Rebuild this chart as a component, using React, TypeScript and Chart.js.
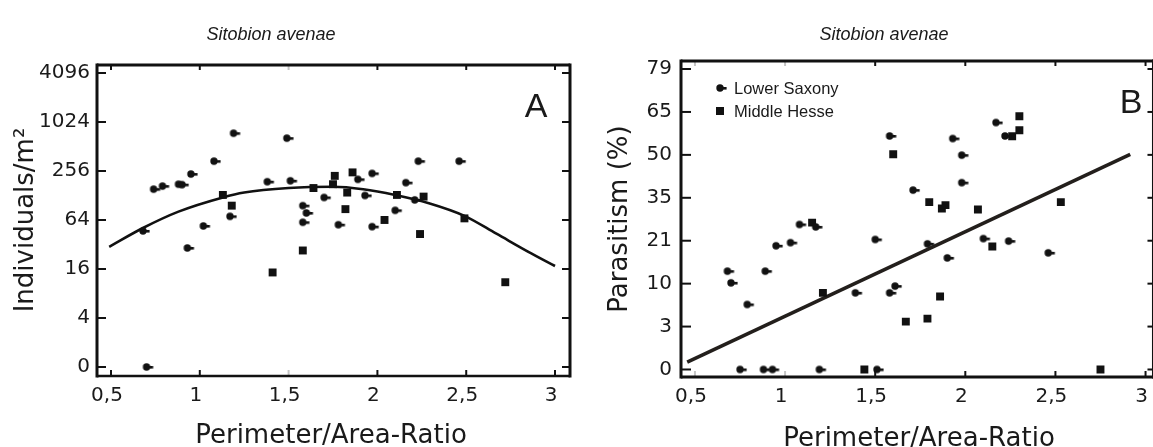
import { useEffect, useRef } from 'react';
import { Chart, registerables } from 'chart.js';

Chart.register(...registerables);

// ---------- shared axis data ----------
const xTickValues = [0.5, 1, 1.5, 2, 2.5, 3];
const xTickLabels = ['0,5', '1', '1,5', '2', '2,5', '3'];

// Panel A: Individuals/m² (log4 axis)
const densityTickValues = [0, 4, 16, 64, 256, 1024, 4096];
const densityTickLabels = ['0', '4', '16', '64', '256', '1024', '4096'];

// Panel B: Parasitism (%) (evenly spaced tick labels)
const parasitismTickValues = [0, 3, 10, 21, 35, 50, 65, 79];
const parasitismTickLabels = ['0', '3', '10', '21', '35', '50', '65', '79'];

// ---------- Panel A data ----------
const aSaxonyX = [1.19, 1.49, 1.08, 0.95, 1.38, 0.74, 0.79, 0.88, 0.9, 1.51, 1.7, 1.58, 1.6, 1.58, 1.17, 1.02, 0.68, 0.93, 0.7, 2.23, 2.46, 1.97, 1.89, 2.16, 1.93, 2.21, 2.1, 1.78, 1.97];
const aSaxonyY = [745, 648, 338, 235, 189, 153, 167, 176, 174, 194, 121, 96, 78, 60, 71, 54, 47, 29, 0, 338, 338, 239, 202, 184, 128, 113, 84, 56, 53];

const aHesseX = [1.13, 1.18, 1.64, 1.76, 1.58, 1.41, 1.86, 1.75, 1.83, 2.11, 2.26, 1.82, 2.04, 2.24, 2.49, 2.72];
const aHesseY = [130, 96, 158, 223, 27, 14.5, 246, 176, 139, 130, 124, 87, 64, 43, 67, 11];

const aFitX = [0.49, 0.68, 0.88, 1.13, 1.25, 1.5, 1.75, 1.92, 2.1, 2.29, 2.49, 2.67, 2.85, 3.0];
const aFitY = [30, 51, 81, 121, 139, 158, 164, 153, 130, 103, 72, 43.4, 26, 17.4];

// ---------- Panel B data ----------
const bSaxonyX = [1.58, 1.71, 1.08, 1.17, 0.95, 1.03, 1.5, 0.68, 0.89, 0.7, 0.79, 1.39, 1.61, 1.58, 0.75, 0.88, 0.93, 1.19, 1.51, 2.17, 1.93, 2.22, 1.98, 1.98, 1.79, 2.1, 2.24, 1.9, 2.46];
const bSaxonyY = [56.6, 37.7, 26.3, 25.5, 19.7, 20.5, 21.4, 13.2, 13.2, 10.2, 6.6, 8.5, 9.6, 8.5, 0, 0, 0, 0, 0, 61.3, 55.7, 56.6, 49.9, 40.3, 20.2, 21.7, 20.9, 16.6, 17.9];

const bHesseX = [1.6, 1.15, 1.21, 1.67, 1.44, 2.75, 2.3, 2.3, 2.26, 1.8, 1.89, 1.87, 2.07, 2.53, 2.15, 1.86, 1.79];
const bHesseY = [50.2, 26.9, 8.5, 3.8, 0, 0, 63.5, 58.6, 56.5, 33.6, 32.6, 31.5, 31.2, 33.6, 19.5, 7.9, 4.3];

const bFitX = [0.457, 2.915];
const bFitY = [0.51, 50.2];

// ---------- transforms onto the drawn axes ----------
const densityPos = (n: number) => (n > 0 ? Math.log(n) / Math.log(4) : 0);
const parasitismPos = (p: number) => {
  const L = parasitismTickValues;
  for (let i = 0; i < L.length - 1; i++) {
    if (p <= L[i + 1]) return i + (p - L[i]) / (L[i + 1] - L[i]);
  }
  return L.length - 1;
};

const FONT = "'DejaVu Sans', 'Liberation Sans', Arial, sans-serif";
const FONT_ARIAL = "'Liberation Sans', Arial, sans-serif";
const INK = '#111111';

function makeTailDot(): HTMLCanvasElement {
  const c = document.createElement('canvas');
  c.width = 18;
  c.height = 10;
  const g = c.getContext('2d')!;
  g.fillStyle = INK;
  g.beginPath();
  g.arc(9, 5, 3.7, 0, Math.PI * 2);
  g.fill();
  g.fillRect(12, 4, 3.6, 2.6);
  return c;
}

const framePlugin = {
  id: 'frame',
  afterDraw(chart: any, _args: any, o: any) {
    const { ctx, chartArea: a } = chart;
    const xs = chart.scales.x;
    const ys = chart.scales.y;
    const seg = (x1: number, y1: number, x2: number, y2: number) => {
      ctx.beginPath();
      ctx.moveTo(x1, y1);
      ctx.lineTo(x2, y2);
      ctx.stroke();
    };
    ctx.save();
    ctx.lineWidth = 2;
    for (const v of o.xTicks) {
      const px = xs.getPixelForValue(v);
      ctx.strokeStyle = o.faintBottom.includes(v) ? '#c4c4c4' : INK;
      seg(px, a.bottom, px, a.bottom - o.len.bottom);
      ctx.strokeStyle = o.faintTop.includes(v) ? '#c4c4c4' : INK;
      seg(px, a.top, px, a.top + o.len.top);
    }
    ctx.strokeStyle = INK;
    for (const v of o.yTicks) {
      const py = ys.getPixelForValue(v);
      seg(a.left, py, a.left + o.len.left, py);
      seg(a.right, py, a.right - o.len.right, py);
    }
    // frame
    ctx.strokeStyle = INK;
    ctx.lineWidth = 3;
    seg(a.left, a.top - 1.5, a.left, a.bottom + 1.5);
    seg(a.right, a.top - 1.5, a.right, a.bottom + 1.5);
    seg(a.left, a.top, a.right, a.top);
    ctx.lineWidth = o.bottomWidth;
    seg(a.left, a.bottom, a.right, a.bottom);

    ctx.fillStyle = '#1a1a1a';
    // title
    ctx.font = `italic 18px ${FONT_ARIAL}`;
    ctx.textAlign = 'center';
    ctx.textBaseline = 'alphabetic';
    ctx.fillText(o.title.text, o.title.x, o.title.y);
    // x title
    ctx.font = `26px ${FONT}`;
    ctx.fillText(o.xTitle.text, o.xTitle.x, o.xTitle.y);
    // y title
    ctx.save();
    ctx.translate(o.yTitle.x, o.yTitle.y);
    ctx.rotate(-Math.PI / 2);
    ctx.fillText(o.yTitle.text, 0, 0);
    ctx.restore();
    // panel letter
    ctx.font = `34px ${FONT_ARIAL}`;
    ctx.fillText(o.letter.text, o.letter.x, o.letter.y);
    // legend
    if (o.legend) {
      ctx.font = `16.5px ${FONT_ARIAL}`;
      ctx.textAlign = 'left';
      o.legend.items.forEach((it: any, i: number) => {
        const y = o.legend.y + i * o.legend.gap;
        if (it.style === 'rect') {
          ctx.fillStyle = INK;
          ctx.fillRect(o.legend.x - 4, y - 4, 8, 8);
        } else {
          ctx.drawImage(it.style, o.legend.x - it.style.width / 2, y - it.style.height / 2);
        }
        ctx.fillStyle = '#1a1a1a';
        ctx.textBaseline = 'alphabetic';
        ctx.fillText(it.text, o.legend.x + 14, y + 6);
      });
    }
    ctx.restore();
  },
};

function zip(xs: number[], ys: number[], f: (v: number) => number) {
  return xs.map((x, i) => ({ x, y: f(ys[i]) }));
}

function makeScales(
  xMin: number, xMax: number, yMin: number, yMax: number,
  yVals: number[], yLabels: string[], yWidth: number, xHeight: number, yPad: number,
) {
  return {
    x: {
      type: 'linear' as const,
      min: xMin,
      max: xMax,
      grid: { display: false, drawTicks: false },
      border: { display: false },
      afterBuildTicks: (s: any) => { s.ticks = xTickValues.map((v) => ({ value: v })); },
      afterFit: (s: any) => { s.height = xHeight; },
      ticks: {
        padding: 8,
        labelOffset: -4,
        maxRotation: 0,
        autoSkip: false,
        color: '#1a1a1a',
        font: { family: FONT, size: 20 },
        callback: (_v: any, i: number) => xTickLabels[i],
      },
    },
    y: {
      type: 'linear' as const,
      min: yMin,
      max: yMax,
      grid: { display: false, drawTicks: false },
      border: { display: false },
      afterBuildTicks: (s: any) => { s.ticks = yVals.map((v) => ({ value: v })); },
      afterFit: (s: any) => { s.width = yWidth; },
      ticks: {
        padding: yPad,
        autoSkip: false,
        color: '#1a1a1a',
        font: { family: FONT, size: 20 },
        callback: (_v: any, i: number) => yLabels[i],
      },
    },
  };
}

export default function App() {
  const refA = useRef<HTMLCanvasElement>(null);
  const refB = useRef<HTMLCanvasElement>(null);

  useEffect(() => {
    const dot = makeTailDot();
    const densityTickPos = densityTickValues.map(densityPos);
    const parasitismTickPos = parasitismTickValues.map(parasitismPos);

    const chartA = new Chart(refA.current!, {
      type: 'scatter',
      data: {
        datasets: [
          {
            label: 'Lower Saxony',
            data: zip(aSaxonyX, aSaxonyY, densityPos),
            pointStyle: dot as any,
            pointRadius: 4,
            backgroundColor: INK,
            borderColor: INK,
          },
          {
            label: 'Middle Hesse',
            data: zip(aHesseX, aHesseY, densityPos),
            pointStyle: 'rect',
            pointRadius: 5.6,
            borderWidth: 0,
            backgroundColor: INK,
            borderColor: INK,
          },
          {
            label: 'fit',
            data: zip(aFitX, aFitY, densityPos),
            showLine: true,
            pointRadius: 0,
            borderColor: INK,
            borderWidth: 2.6,
            cubicInterpolationMode: 'monotone',
          } as any,
        ],
      },
      options: {
        animation: false,
        responsive: false,
        events: [],
        layout: { padding: { top: 65, right: 10, left: 0, bottom: 0 } },
        scales: makeScales(0.4213, 3.0843, -0.184, 6.163, densityTickPos, densityTickLabels, 97, 71, 7) as any,
        plugins: {
          legend: { display: false },
          tooltip: { enabled: false },
          frame: {
            xTicks: xTickValues,
            yTicks: densityTickPos,
            faintTop: [1.5],
            faintBottom: [1.5],
            len: { left: 9, right: 8, top: 5, bottom: 6 },
            bottomWidth: 2.5,
            title: { text: 'Sitobion avenae', x: 271, y: 40 },
            xTitle: { text: 'Perimeter/Area-Ratio', x: 331, y: 443 },
            yTitle: { text: 'Individuals/m²', x: 33, y: 220 },
            letter: { text: 'A', x: 536, y: 117 },
          },
        } as any,
      },
      plugins: [framePlugin],
    });

    const chartB = new Chart(refB.current!, {
      type: 'scatter',
      data: {
        datasets: [
          {
            label: 'Lower Saxony',
            data: zip(bSaxonyX, bSaxonyY, parasitismPos),
            pointStyle: dot as any,
            pointRadius: 4,
            backgroundColor: INK,
            borderColor: INK,
          },
          {
            label: 'Middle Hesse',
            data: zip(bHesseX, bHesseY, parasitismPos),
            pointStyle: 'rect',
            pointRadius: 5.6,
            borderWidth: 0,
            backgroundColor: INK,
            borderColor: INK,
          },
          {
            label: 'fit',
            data: zip(bFitX, bFitY, parasitismPos),
            showLine: true,
            pointRadius: 0,
            borderColor: '#231f1c',
            borderWidth: 3.6,
          } as any,
        ],
      },
      options: {
        animation: false,
        responsive: false,
        events: [],
        layout: { padding: { top: 61, right: 5, left: 0, bottom: 0 } },
        scales: makeScales(0.4226, 3.044, -0.175, 7.187, parasitismTickPos, parasitismTickLabels, 101, 70, 9) as any,
        plugins: {
          legend: { display: false },
          tooltip: { enabled: false },
          frame: {
            xTicks: xTickValues,
            yTicks: parasitismTickPos,
            faintTop: [0.5, 1],
            faintBottom: [0.5, 1],
            len: { left: 10, right: 6, top: 5, bottom: 6 },
            bottomWidth: 3,
            title: { text: 'Sitobion avenae', x: 304, y: 40 },
            xTitle: { text: 'Perimeter/Area-Ratio', x: 339, y: 446 },
            yTitle: { text: 'Parasitism (%)', x: 47, y: 219 },
            letter: { text: 'B', x: 551, y: 113 },
            legend: {
              x: 140,
              y: 88,
              gap: 23,
              items: [
                { text: 'Lower Saxony', style: dot },
                { text: 'Middle Hesse', style: 'rect' },
              ],
            },
          },
        } as any,
      },
      plugins: [framePlugin],
    });

    return () => {
      chartA.destroy();
      chartB.destroy();
    };
  }, []);

  return (
    <div
      style={{
        position: 'absolute',
        left: 0,
        top: 0,
        width: 1153,
        height: 447,
        overflow: 'hidden',
        background: '#ffffff',
      }}
    >
      <canvas ref={refA} width={580} height={447} style={{ position: 'absolute', left: 0, top: 0 }} />
      <canvas ref={refB} width={580} height={447} style={{ position: 'absolute', left: 580, top: 0 }} />
    </div>
  );
}
